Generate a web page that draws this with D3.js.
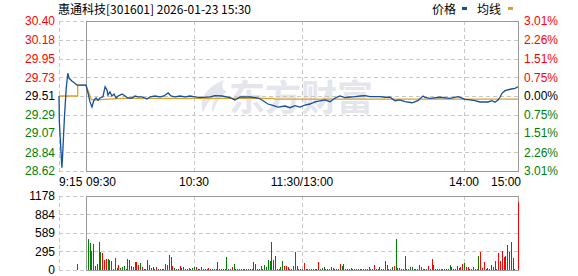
<!DOCTYPE html>
<html>
<head>
<meta charset="utf-8">
<script src="https://cdn.jsdelivr.net/npm/d3@7"></script>
<style>
  body { margin: 0; background: #fff; }
  svg { display: block; }
</style>
</head>
<body>
<div id="chart"></div>
<script>
// ---- data ----
let title = "惠通科技[301601] 2026-01-23 15:30";
let prevClose = 29.51;
let priceTicks = [30.40, 30.18, 29.95, 29.73, 29.51, 29.29, 29.07, 28.84, 28.62];
let pctTicks = ["3.01%", "2.26%", "1.51%", "0.75%", "0.00%", "0.75%", "1.51%", "2.26%", "3.01%"];
let volTicks = [0, 295, 589, 884, 1178];
let timeTicks = [-15, 0, 60, 120, 210, 240];   // minutes from 09:30, lunch break skipped
let timeLabels = ["9:15", "09:30", "10:30", "11:30/13:00", "14:00", "15:00"];

// call auction 9:15-9:30, [minute, price]
let auctionPrice = [[-15, 29.51], [-14.8, 29.20], [-13.4, 28.66], [-13.0, 28.80], [-12.0, 29.25],
    [-11.0, 29.60], [-10.1, 29.78], [-9.4, 29.72], [-8.0, 29.69], [-6.2, 29.66], [-5.0, 29.64], [0, 29.64]];
let auctionAvg = [[-15, 29.51], [-4.6, 29.51], [-4.6, 29.64], [0, 29.64]];
let auctionVolume = [[-5, 95]];

// session price, [minute, price]
let price = [[0, 29.64], [1.1, 29.546], [2.2, 29.44], [3.3, 29.38], [4.4, 29.46], [5.6, 29.486], [6.7, 29.46],
    [7.8, 29.486], [9.4, 29.50], [10.6, 29.62], [11.7, 29.58], [12.2, 29.52], [13.3, 29.56], [14.4, 29.51],
    [15.6, 29.534], [16.7, 29.486], [17.8, 29.51], [18.9, 29.52], [20, 29.534], [21.7, 29.51], [23.3, 29.486],
    [25.6, 29.486], [27.2, 29.51], [28.9, 29.50], [31.1, 29.50], [33.9, 29.474], [35.6, 29.50], [38.3, 29.51],
    [41.1, 29.50], [43.3, 29.51], [45.6, 29.546], [47.2, 29.51], [49.4, 29.50], [52.2, 29.51], [55, 29.50],
    [57.8, 29.51], [60.6, 29.50], [63.3, 29.49], [68.9, 29.50], [71.7, 29.514], [75.6, 29.51], [80, 29.49],
    [82.8, 29.463], [85.6, 29.498], [91.1, 29.498], [95.6, 29.486], [97.8, 29.463], [101.1, 29.415],
    [103.3, 29.403], [106.7, 29.379], [110.6, 29.391], [113.3, 29.371], [116.1, 29.395], [118.9, 29.379],
    [121.7, 29.403], [124.4, 29.415], [127.2, 29.439], [130, 29.451], [132.8, 29.463], [135.6, 29.442],
    [138.3, 29.486], [141.1, 29.51], [143.9, 29.49], [146.7, 29.498], [149.4, 29.502], [152.2, 29.51],
    [155, 29.514], [157.8, 29.502], [160.6, 29.502], [163.3, 29.502], [166.1, 29.495], [168.9, 29.495],
    [171.7, 29.454], [174.4, 29.463], [177.2, 29.442], [181.1, 29.43], [184.4, 29.454], [187.2, 29.51],
    [188.3, 29.495], [191.1, 29.483], [196.7, 29.495], [202.2, 29.483], [206.7, 29.502], [210.6, 29.471],
    [213.3, 29.463], [216.1, 29.454], [218.9, 29.439], [223.3, 29.439], [225.6, 29.454], [227.2, 29.435],
    [228.9, 29.463], [230, 29.495], [231.1, 29.542], [232.8, 29.573], [235.6, 29.59], [238.3, 29.60], [240, 29.62]];

let avgPrice = [[0, 29.64], [1, 29.58], [3, 29.47], [5, 29.46], [10, 29.47], [15, 29.475], [20, 29.482],
    [104, 29.482], [105, 29.472], [240, 29.472]];

// volume per minute, 09:31 .. 15:00
let volumes = [
    488, 424, 302, 419, 64, 90, 451, 292, 265, 159,
    170, 170, 159, 143, 11, 186, 27, 80, 27, 42,
    64, 11, 175, 159, 64, 42, 133, 133, 80, 111,
    42, 11, 11, 159, 80, 27, 42, 11, 42, 11,
    11, 11, 11, 95, 80, 233, 207, 69, 27, 11,
    11, 58, 27, 42, 11, 11, 27, 11, 27, 42,
    42, 11, 11, 42, 11, 11, 11, 27, 11, 11,
    11, 11, 127, 11, 11, 11, 11, 207, 11, 11,
    42, 95, 11, 11, 11, 11, 11, 11, 11, 11,
    11, 11, 127, 95, 11, 11, 64, 11, 80, 42,
    159, 143, 445, 159, 223, 11, 11, 42, 143, 64,
    64, 42, 11, 11, 64, 286, 64, 11, 11, 11,
    111, 11, 11, 11, 11, 11, 11, 11, 127, 11,
    27, 42, 11, 11, 11, 42, 27, 11, 11, 11,
    95, 64, 95, 11, 11, 11, 27, 11, 11, 11,
    11, 11, 11, 11, 11, 11, 42, 11, 11, 80,
    11, 11, 42, 11, 11, 143, 80, 11, 11, 42,
    64, 488, 27, 27, 11, 11, 223, 11, 11, 42,
    42, 11, 11, 11, 80, 42, 11, 11, 11, 64,
    11, 175, 80, 11, 11, 11, 11, 11, 11, 11,
    11, 80, 42, 11, 11, 64, 27, 42, 95, 111,
    42, 42, 11, 11, 42, 11, 11, 223, 286, 27,
    127, 11, 27, 11, 80, 42, 143, 11, 270, 143,
    302, 207, 223, 398, 286, 445, 191, 11, 0, 1080
];
// r = up minute, g = down minute
let volDir = ["gggrrrggrr", "rgrrrgrrgg", "grggrrgrrg", "rrrgrrrrrg", "grrgrrgrgg", "grgrgrrrgg",
    "rgrgrrrrrr", "rrgggggggr", "rgrrrrrrrr", "rrrgggrrgg", "gggrgrrggr", "rrrrgggrrr",
    "rrggrggrrr", "ggrrggrggg", "rggrrrrrrr", "rrrrrrgggr", "rrggrrgrgg", "rgrrrrgrgg",
    "ggggrrrggr", "grrgrrrggg", "ggrrrrgrrg", "rrggrgggrr", "rrgrrrgrrr", "rrrrrrrrrr"].join("");

// ---- chart ----
let width = 578, height = 276,
    left = 59, open = 86, right = 518,
    priceTop = 21, priceBottom = 171,
    volTop = 196, volBottom = 270,
    red = "#ff0000", green = "#008000",
    gridColor = "#c8c8c8", frameColor = "#999999",
    font = "'Liberation Sans', Arial, sans-serif",
    cjk = "'Noto Sans CJK SC', sans-serif";

let x = d3.scaleLinear().domain([-15, 240]).range([left, right]);
let y = d3.scaleLinear().domain([28.62, 30.40]).range([priceBottom, priceTop]);
let yv = d3.scaleLinear().domain([0, 1178]).range([volBottom, volTop]);

let svg = d3.select("#chart").append("svg")
    .attr("width", width)
    .attr("height", height)
    .style("font-family", font);

let px = function(v) { return Math.round(v) + 0.5; };

// watermark
let wm = svg.append("g").attr("fill", "#e5e5ee");
wm.append("path")
    .attr("d", "M224,80 C208,86 198,98 203,113 C206,104 211,98 218,95 C212,102 211,108 213,113 C216,102 220,96 227,92 C222,90 221,85 224,80 Z");
wm.append("text")
    .attr("x", 229).attr("y", 111)
    .style("font-family", cjk)
    .style("font-size", "36px")
    .style("font-weight", "bold")
    .text("东方财富");

// grid + frames for one panel
let drawPanel = function(ys, top, bottom) {
    let g = svg.append("g");
    g.selectAll(".h").data(ys).enter().append("line")
        .attr("x1", left).attr("x2", right)
        .attr("y1", d => px(d)).attr("y2", d => px(d))
        .attr("stroke", gridColor)
        .attr("stroke-dasharray", "4,3");
    g.selectAll(".v").data([-15, 60, 120, 210]).enter().append("line")
        .attr("x1", d => px(x(d))).attr("x2", d => px(x(d)))
        .attr("y1", top).attr("y2", bottom)
        .attr("stroke", gridColor)
        .attr("stroke-dasharray", "4,3");
    g.append("rect")
        .attr("x", px(x(0))).attr("y", px(top))
        .attr("width", Math.round(x(240)) - Math.round(x(0)))
        .attr("height", Math.round(bottom) - Math.round(top))
        .attr("fill", "none")
        .attr("stroke", frameColor);
    return g;
};

drawPanel(priceTicks.map(d => y(d)), priceTop, priceBottom);
drawPanel(volTicks.map(d => yv(d)), volTop, volBottom);

// price axes
let colorFor = function(d) {
    if (Math.abs(d - prevClose) < 0.001) return "#000";
    return d > prevClose ? red : green;
};

let leftAxis = svg.append("g")
    .attr("transform", "translate(" + left + ",0)")
    .call(d3.axisLeft(y).tickValues(priceTicks).tickFormat(d3.format(".2f")).tickSize(0).tickPadding(4));
leftAxis.select(".domain").remove();
leftAxis.selectAll("text")
    .style("font-family", font).style("font-size", "12px")
    .attr("fill", d => colorFor(d));

let rightAxis = svg.append("g")
    .attr("transform", "translate(" + right + ",0)")
    .call(d3.axisRight(y).tickValues(priceTicks).tickFormat((d, i) => pctTicks[i]).tickSize(0).tickPadding(6));
rightAxis.select(".domain").remove();
rightAxis.selectAll("text")
    .style("font-family", font).style("font-size", "12px")
    .attr("fill", d => colorFor(d));

let volAxis = svg.append("g")
    .attr("transform", "translate(" + left + ",0)")
    .call(d3.axisLeft(yv).tickValues(volTicks).tickFormat(d3.format("d")).tickSize(0).tickPadding(4));
volAxis.select(".domain").remove();
volAxis.selectAll("text")
    .style("font-family", font).style("font-size", "12px")
    .attr("fill", "#000");

// time labels
let anchors = ["start", "start", "middle", "middle", "middle", "end"];
svg.append("g").selectAll("text").data(timeTicks).enter().append("text")
    .attr("x", (d, i) => i == 5 ? x(d) + 3 : x(d))
    .attr("y", 186)
    .attr("text-anchor", (d, i) => anchors[i])
    .style("font-size", "12px")
    .attr("fill", "#000")
    .text((d, i) => timeLabels[i]);

// volume bars
let bars = volumes.map((v, i) => ({m: i + 1, v: v, up: volDir[i] == "r"}))
    .concat(auctionVolume.map(d => ({m: d[0], v: d[1], up: true})));
svg.append("g").selectAll("rect").data(bars.filter(d => d.v > 0)).enter().append("rect")
    .attr("x", d => Math.round(x(d.m)))
    .attr("width", 1)
    .attr("y", d => Math.min(Math.round(yv(d.v)), volBottom - 1))
    .attr("height", d => volBottom - Math.min(Math.round(yv(d.v)), volBottom - 1))
    .attr("fill", d => d.up ? red : green);

// lines
let line = d3.line().x(d => x(d[0])).y(d => y(d[1]));
svg.append("path").datum(auctionAvg.concat(avgPrice.slice(1)))
    .attr("d", line)
    .attr("fill", "none")
    .attr("stroke", "#e0a020")
    .attr("stroke-width", 1.3);
svg.append("path").datum(auctionPrice.concat(price.slice(1)))
    .attr("d", line)
    .attr("fill", "none")
    .attr("stroke", "#1450a0")
    .attr("stroke-width", 1.3);

// title + legend
svg.append("text")
    .attr("x", 58).attr("y", 14)
    .style("font-family", cjk).style("font-size", "12px")
    .attr("fill", "#000")
    .text(title);

let legend = svg.append("g").style("font-family", cjk).style("font-size", "12px");
legend.append("text").attr("x", 432).attr("y", 14).attr("fill", "#000").text("价格");
legend.append("rect").attr("x", 462).attr("y", 7).attr("width", 5).attr("height", 3).attr("fill", "#1450a0");
legend.append("text").attr("x", 477).attr("y", 14).attr("fill", "#000").text("均线");
legend.append("rect").attr("x", 508).attr("y", 7).attr("width", 5).attr("height", 3).attr("fill", "#e0a020");
</script>
</body>
</html>
